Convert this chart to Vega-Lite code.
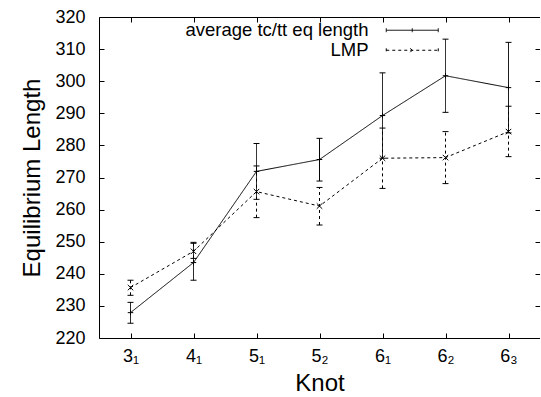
{
  "$schema": "https://vega.github.io/schema/vega-lite/v6.json",
  "width": 441,
  "height": 321,
  "autosize": {"type": "none"},
  "padding": {"left": 99, "top": 17, "right": 0, "bottom": 59},
  "background": "white",
  "config": {
    "view": {"stroke": "black", "strokeWidth": 1},
    "font": "Liberation Sans",
    "axis": {
      "domain": false,
      "grid": false,
      "tickColor": "black",
      "tickSize": -5,
      "labelColor": "black",
      "labelFont": "Liberation Sans",
      "labelFontSize": 18,
      "titleFont": "Liberation Sans",
      "titleFontSize": 24,
      "titleFontWeight": "normal",
      "titleColor": "black"
    }
  },
  "data": {
    "values": [
      {"knot": "3₁", "series": "average tc/tt eq length", "value": 227.9, "lo": 224.6, "hi": 231.1},
      {"knot": "4₁", "series": "average tc/tt eq length", "value": 243.5, "lo": 238.0, "hi": 249.8},
      {"knot": "5₁", "series": "average tc/tt eq length", "value": 271.9, "lo": 263.2, "hi": 280.6},
      {"knot": "5₂", "series": "average tc/tt eq length", "value": 275.6, "lo": 268.9, "hi": 282.2},
      {"knot": "6₁", "series": "average tc/tt eq length", "value": 289.3, "lo": 276.0, "hi": 302.6},
      {"knot": "6₂", "series": "average tc/tt eq length", "value": 301.7, "lo": 290.3, "hi": 313.1},
      {"knot": "6₃", "series": "average tc/tt eq length", "value": 298.0, "lo": 283.9, "hi": 312.1},
      {"knot": "3₁", "series": "LMP", "value": 235.7, "lo": 233.3, "hi": 238.0},
      {"knot": "4₁", "series": "LMP", "value": 247.0, "lo": 244.8, "hi": 249.5},
      {"knot": "5₁", "series": "LMP", "value": 265.6, "lo": 257.5, "hi": 273.6},
      {"knot": "5₂", "series": "LMP", "value": 261.1, "lo": 255.2, "hi": 266.9},
      {"knot": "6₁", "series": "LMP", "value": 276.0, "lo": 266.6, "hi": 285.4},
      {"knot": "6₂", "series": "LMP", "value": 276.2, "lo": 268.1, "hi": 284.3},
      {"knot": "6₃", "series": "LMP", "value": 284.3, "lo": 276.5, "hi": 292.2}
    ]
  },
  "layer": [
    {
      "mark": {"type": "line", "color": "black", "strokeWidth": 1},
      "encoding": {
        "x": {
          "field": "knot", "type": "ordinal", "sort": null,
          "scale": {"type": "point", "padding": 0.5},
          "axis": {"title": "Knot", "labelAngle": 0, "labelPadding": 14, "titlePadding": 6}
        },
        "y": {
          "field": "value", "type": "quantitative",
          "scale": {"domain": [220, 320], "nice": false, "zero": false},
          "axis": {"title": "Equilibrium Length", "values": [220,230,240,250,260,270,280,290,300,310,320], "labelPadding": 19, "titlePadding": 10}
        },
        "detail": {"field": "series"},
        "strokeDash": {
          "field": "series", "type": "nominal",
          "scale": {"domain": ["average tc/tt eq length", "LMP"], "range": [[1, 0], [3, 3]]},
          "legend": {
            "title": null,
            "orient": "none",
            "legendX": 304,
            "legendY": 4,
            "labelFontSize": 18.5,
            "labelColor": "black",
            "labelAlign": "right",
            "labelLimit": 400,
            "labelOffset": -53,
            "rowPadding": 1,
            "symbolType": "M-4,-0.3V0.3M-4,0H4M4,-0.3V0.3M0,-0.3V0.3",
            "symbolSize": 169,
            "symbolStrokeColor": "black",
            "symbolFillColor": "transparent",
            "symbolStrokeWidth": 1,
            "encode": {
              "symbols": {
                "update": {
                  "shape": {"signal": "datum.value === 'LMP' ? 'M-4,-0.3V0.3M-4,0H4M4,-0.3V0.3M-0.3,-0.3L0.3,0.3M-0.3,0.3L0.3,-0.3' : 'M-4,-0.3V0.3M-4,0H4M4,-0.3V0.3M0,-0.3V0.3'"}
                }
              }
            }
          }
        }
      }
    },
    {
      "transform": [{"filter": "datum.series === 'average tc/tt eq length'"}],
      "mark": {"type": "point", "filled": false, "color": "black", "strokeWidth": 1, "size": 30, "opacity": 1, "shape": "M-1,0H1M0,-1V1"},
      "encoding": {
        "x": {
          "field": "knot", "type": "ordinal", "sort": null,
          "axis": {"orient": "top", "labels": false, "title": null}
        },
        "y": {
          "field": "value", "type": "quantitative",
          "axis": {"orient": "right", "labels": false, "title": null, "values": [220,230,240,250,260,270,280,290,300,310,320]}
        }
      }
    },
    {
      "transform": [{"filter": "datum.series === 'LMP'"}],
      "mark": {"type": "point", "filled": false, "color": "black", "strokeWidth": 1, "size": 30, "opacity": 1, "shape": "M-1,-1L1,1M-1,1L1,-1"},
      "encoding": {
        "x": {"field": "knot", "type": "ordinal", "sort": null, "axis": null},
        "y": {"field": "value", "type": "quantitative", "axis": null}
      }
    },
    {
      "mark": {"type": "rule", "color": "black", "strokeWidth": 1},
      "encoding": {
        "x": {"field": "knot", "type": "ordinal", "sort": null, "axis": null},
        "y": {"field": "lo", "type": "quantitative", "axis": null},
        "y2": {"field": "hi"},
        "strokeDash": {"field": "series", "type": "nominal"}
      }
    },
    {
      "mark": {"type": "tick", "color": "black", "thickness": 1, "size": 6, "opacity": 1},
      "encoding": {
        "x": {"field": "knot", "type": "ordinal", "sort": null, "axis": null},
        "y": {"field": "lo", "type": "quantitative", "axis": null}
      }
    },
    {
      "mark": {"type": "tick", "color": "black", "thickness": 1, "size": 6, "opacity": 1},
      "encoding": {
        "x": {"field": "knot", "type": "ordinal", "sort": null, "axis": null},
        "y": {"field": "hi", "type": "quantitative", "axis": null}
      }
    }
  ],
  "resolve": {"axis": {"x": "independent", "y": "independent"}}
}
